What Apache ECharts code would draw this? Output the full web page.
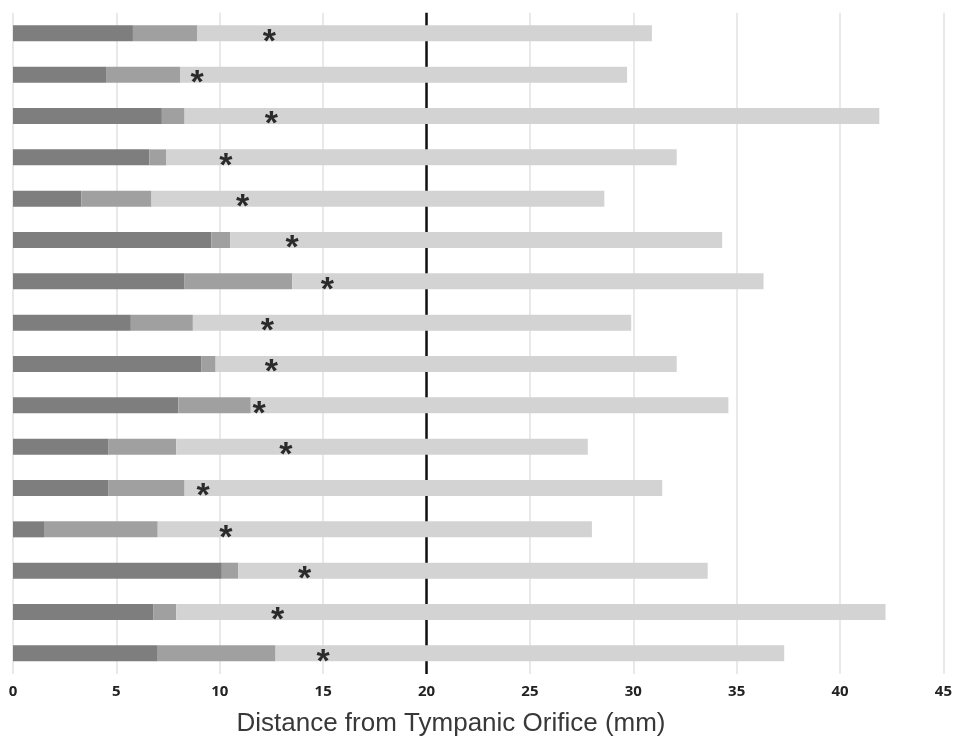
<!DOCTYPE html>
<html>
<head>
<meta charset="utf-8">
<script src="https://cdn.jsdelivr.net/npm/echarts@6/dist/echarts.min.js"></script>
<style>
html,body{margin:0;padding:0;background:#fff;overflow:hidden;}
#chart{width:955px;height:745px;}
</style>
</head>
<body>
<div id="chart"></div>
<script>
// Subjects (top to bottom)
const categories = ['1','2','3','4','5','6','7','8','9','10','11','12','13','14','15','16'];
// End of dark segment (mm)
const darkEnd   = [5.8, 4.5, 7.2, 6.6, 3.3, 9.6, 8.3, 5.7, 9.1, 8.0, 4.6, 4.6, 1.5, 10.1, 6.8, 7.0];
// End of medium segment (mm)
const mediumEnd = [8.9, 8.1, 8.3, 7.4, 6.7, 10.5, 13.5, 8.7, 9.8, 11.5, 7.9, 8.3, 7.0, 10.9, 7.9, 12.7];
// Total length (mm)
const totalEnd  = [30.9, 29.7, 41.9, 32.1, 28.6, 34.3, 36.3, 29.9, 32.1, 34.6, 27.8, 31.4, 28.0, 33.6, 42.2, 37.3];
// Asterisk position (mm)
const starPos   = [12.4, 8.9, 12.5, 10.3, 11.1, 13.5, 15.2, 12.3, 12.5, 11.9, 13.2, 9.2, 10.3, 14.1, 12.8, 15.0];
// Reference line
const refLine = 20;
const xTicks = [0, 5, 10, 15, 20, 25, 30, 35, 40, 45];
const axisTitle = 'Distance from Tympanic Orifice (mm)';

const seg1 = darkEnd.slice();
const seg2 = mediumEnd.map((v, i) => +(v - darkEnd[i]).toFixed(2));
const seg3 = totalEnd.map((v, i) => +(v - mediumEnd[i]).toFixed(2));
const stars = starPos.map((v, i) => [v, categories[i]]);

const chart = echarts.init(document.getElementById('chart'), null, {renderer: 'canvas', width: 955, height: 745});
chart.setOption({
  animation: false,
  backgroundColor: '#ffffff',
  grid: {left: 13, right: 6, top: 12.7, bottom: 71, containLabel: false},
  xAxis: {
    type: 'value',
    min: xTicks[0], max: xTicks[xTicks.length - 1], interval: 5,
    axisLine: {show: false},
    axisTick: {show: false},
    axisLabel: {
      show: true, margin: 10,
      fontFamily: 'Open Sans', fontWeight: 'bold', fontSize: 15, color: '#222'
    },
    splitLine: {show: true, lineStyle: {color: '#e2e2e2', width: 1.5}}
  },
  yAxis: {
    type: 'category', data: categories, inverse: true,
    axisLine: {show: false}, axisTick: {show: false}, axisLabel: {show: false},
    splitLine: {show: false}
  },
  graphic: [{
    type: 'text',
    x: 451, y: 724,
    style: {
      text: axisTitle,
      fontFamily: 'Liberation Sans', fontSize: 26, fill: '#383838',
      align: 'center', verticalAlign: 'middle'
    }
  }],
  series: [
    {
      type: 'bar', stack: 'a', data: seg1, barWidth: 16, z: 3,
      itemStyle: {color: '#7e7e7e'},
      markLine: {
        silent: true, symbol: 'none', z: 1,
        label: {show: false},
        lineStyle: {color: '#111', width: 2.5, type: 'solid'},
        data: [{xAxis: refLine}]
      }
    },
    {type: 'bar', stack: 'a', data: seg2, barWidth: 16, z: 3, itemStyle: {color: '#a0a0a0'}},
    {type: 'bar', stack: 'a', data: seg3, barWidth: 16, z: 3, itemStyle: {color: '#d3d3d3'}},
    {
      type: 'scatter', data: stars, z: 5,
      symbolSize: 1, itemStyle: {color: 'rgba(0,0,0,0)'},
      label: {
        show: true, position: 'inside', formatter: '*',
        fontFamily: 'Liberation Sans', fontWeight: 'bold', fontSize: 34,
        color: '#000', offset: [0, 9]
      }
    }
  ]
});
</script>
</body>
</html>
